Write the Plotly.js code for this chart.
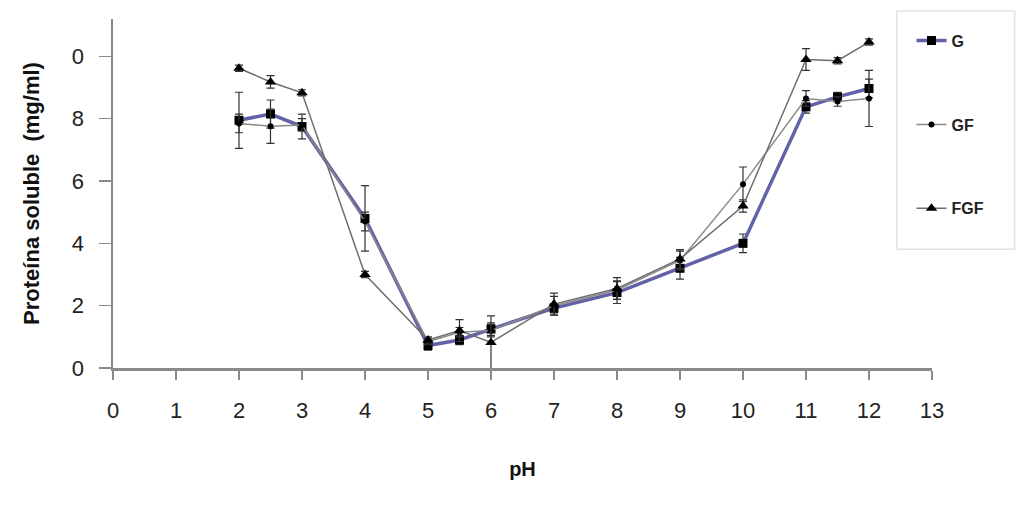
<!DOCTYPE html>
<html>
<head>
<meta charset="utf-8">
<script src="https://cdn.plot.ly/plotly-3.0.1.min.js"></script>
<style>html,body{margin:0;padding:0;background:#fff;}#chart{width:1020px;height:512px;}</style>
</head>
<body>
<div id="chart"></div>
<script>
var pH = [2, 2.5, 3, 4, 5, 5.5, 6, 7, 8, 9, 10, 11, 11.5, 12];
var G   = [7.95, 8.15, 7.75, 4.8, 0.72, 0.9, 1.25, 1.92, 2.42, 3.2, 4.0, 8.38, 8.7, 8.97];
var GF  = [7.85, 7.76, 7.8, 4.7, 0.85, 1.15, 1.2, 2.0, 2.5, 3.45, 5.9, 8.65, 8.55, 8.65];
var FGF = [9.62, 9.18, 8.83, 3.0, 0.9, 1.2, 0.82, 2.05, 2.55, 3.5, 5.2, 9.9, 9.86, 10.46];
var G_err   = [0.9, 0.45, 0.4, 1.05, 0.15, 0.15, 0.2, 0.15, 0.35, 0.35, 0.3, 0.2, 0.15, 0.3];
var GF_err  = [0.3, 0.55, 0.2, 0.3, 0.1, 0.15, 0.2, 0.3, 0.3, 0.3, 0.55, 0.25, 0.15, 0.9];
var FGF_err = [0.1, 0.2, 0.1, 0.1, 0.1, 0.35, 0.85, 0.35, 0.35, 0.3, 0.2, 0.35, 0.1, 0.1];
var yTickVals = [0, 2, 4, 6, 8, 10];
var yTickText = ['0', '2', '4', '6', '8', '0'];
var xTickVals = [0, 1, 2, 3, 4, 5, 6, 7, 8, 9, 10, 11, 12, 13];

function errs(a){ return {type:'data', array:a, visible:true, color:'#333', thickness:1.2, width:4}; }

var traces = [
  {x:pH, y:G, name:'G', mode:'lines+markers', legendgroup:'a', error_y:errs(G_err),
   line:{color:'#6262a8', width:3.5}, marker:{symbol:'square', size:9, color:'#000'}},
  {x:pH, y:GF, name:'GF', mode:'lines+markers', legendgroup:'b', error_y:errs(GF_err),
   line:{color:'#8a8a8a', width:1.5}, marker:{symbol:'circle', size:6, color:'#000'}},
  {x:pH, y:FGF, name:'FGF', mode:'lines+markers', legendgroup:'c', error_y:errs(FGF_err),
   line:{color:'#6e6e6e', width:1.5}, marker:{symbol:'triangle-up', size:10, color:'#000'}}
];

var tickFont = {family:'Liberation Sans, Arial', size:22, color:'#222'};
var layout = {
  width:1020, height:512,
  paper_bgcolor:'#fff', plot_bgcolor:'#fff',
  margin:{l:113, r:88, t:15, b:144},
  showlegend:true,
  shapes:[{type:'rect', xref:'paper', yref:'paper', x0:0.957, x1:1.101, y0:0.34, y1:1.023,
    line:{color:'#e4e4e4', width:1.5}, fillcolor:'#fff', layer:'above'}],
  legend:{x:0.975, xanchor:'left', y:1.02, yanchor:'top', xref:'paper', yref:'paper',
    bgcolor:'rgba(0,0,0,0)', borderwidth:0,
    title:{text:' ', font:{size:9}},
    tracegroupgap:60, font:{family:'Liberation Sans, Arial', size:16, color:'#222', weight:'bold'}},
  xaxis:{range:[0,13], tickvals:xTickVals, showgrid:false, zeroline:false,
    showline:true, linecolor:'#8a8a8a', linewidth:2.5, ticks:'outside', ticklen:9, tickcolor:'#8a8a8a', tickwidth:1.5,
    tickfont:tickFont, ticklabelstandoff:12,
    title:{text:'pH', font:{family:'Liberation Sans, Arial', size:20, color:'#111', weight:'bold'}, standoff:40}},
  yaxis:{range:[0,11.2], tickvals:yTickVals, ticktext:yTickText, showgrid:false, zeroline:false,
    showline:true, linecolor:'#8a8a8a', linewidth:2.5, ticks:'outside', ticklen:12, tickcolor:'#8a8a8a', tickwidth:1.5,
    tickfont:tickFont, ticklabelstandoff:10,
    title:{text:'Proteína soluble  (mg/ml)', font:{family:'Liberation Sans, Arial', size:22, color:'#111', weight:'bold'}, standoff:26}}
};
Plotly.newPlot('chart', traces, layout, {displayModeBar:false, staticPlot:true});
</script>
</body>
</html>
